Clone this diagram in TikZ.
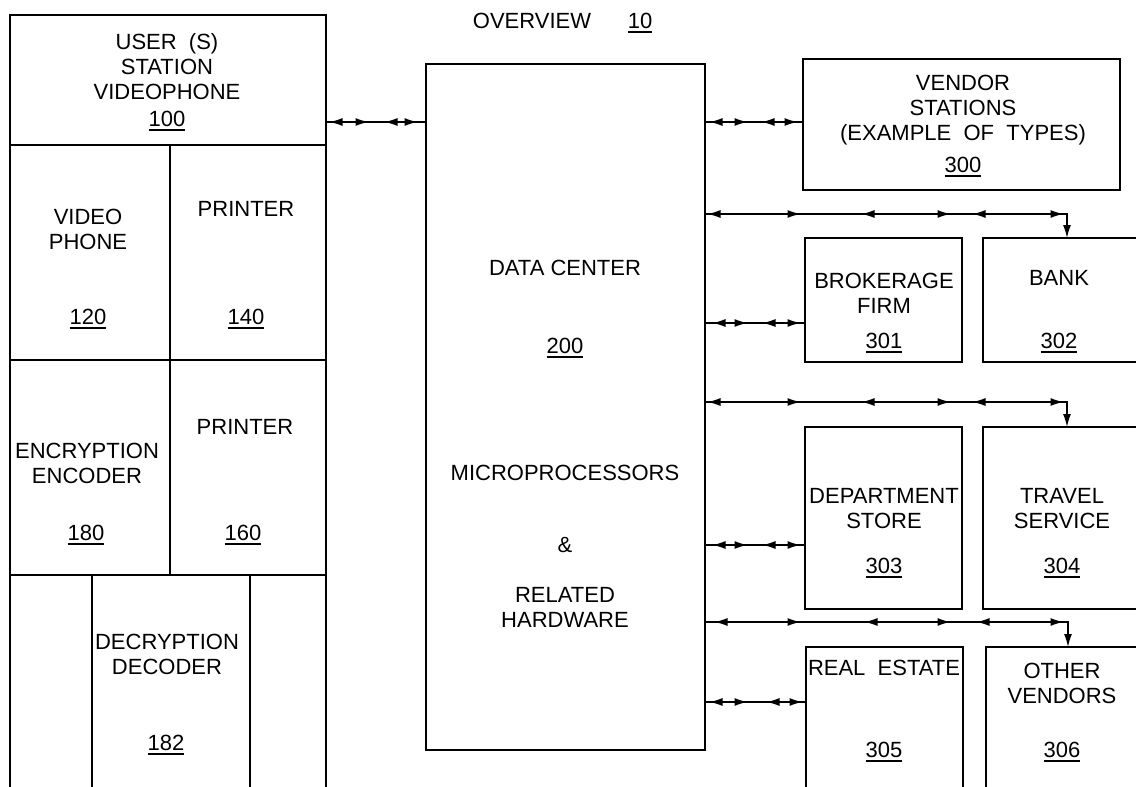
\documentclass[tikz,border=0pt]{standalone}
\usepackage{fontspec}
\setmainfont{Liberation Sans}
\usetikzlibrary{arrows.meta,decorations.markings}
\newcommand\unum[1]{\vtop{\hbox{#1}\kern3pt\hrule height 1.8pt}}
\begin{document}
\begin{tikzpicture}[x=1pt,y=-1pt,
  box/.style={draw,line width=1.4pt,inner sep=0pt,outer sep=0pt,anchor=north west},
  lbl/.style={align=center,inner sep=0pt,font=\fontsize{22}{25}\selectfont},
  num/.style={inner sep=0pt,anchor=base,font=\fontsize{22}{25}\selectfont},
  link/.style={line width=1.4pt},
  endtip/.style={-{Latex[length=13pt,width=8pt]}},
  hf/.style={postaction={decorate,decoration={markings,mark=at position #1pt with {\arrow{Latex[length=13pt,width=8pt]}}}}},
  hb/.style={postaction={decorate,decoration={markings,mark=at position #1pt with {\arrowreversed{Latex[length=13pt,width=8pt]}}}}}]
\useasboundingbox (0,0) rectangle (1136,787);
\clip (0,0) rectangle (1136,787);

% boxes
\node[box,minimum width=316pt,minimum height=790pt] (us) at (10,15) {};
\node[box,minimum width=279pt,minimum height=686pt] (dc) at (426,64) {};
\node[box,minimum width=317pt,minimum height=131pt] (v300) at (803,59) {};
\node[box,minimum width=157pt,minimum height=124pt] (v301) at (805,238) {};
\node[box,minimum width=170pt,minimum height=124pt] (v302) at (983,238) {};
\node[box,minimum width=157pt,minimum height=182pt] (v303) at (805,427) {};
\node[box,minimum width=170pt,minimum height=182pt] (v304) at (983,427) {};
\node[box,minimum width=157pt,minimum height=160pt] (v305) at (806,647) {};
\node[box,minimum width=170pt,minimum height=160pt] (v306) at (986,647) {};

% user station internal divisions
\coordinate (h1) at (0,145);
\coordinate (h2) at (0,360);
\coordinate (h3) at (0,575);
\coordinate (vA) at (170,0);
\coordinate (vB) at (92,0);
\coordinate (vC) at (250,0);
\draw[link] (us.west |- h1) -- (us.east |- h1);
\draw[link] (us.west |- h2) -- (us.east |- h2);
\draw[link] (us.west |- h3) -- (us.east |- h3);
\draw[link] (vA |- h1) -- (vA |- h3);
\draw[link] (vB |- h3) -- (vB |- us.south);
\draw[link] (vC |- h3) -- (vC |- us.south);

% connectors
\coordinate (r1) at (0,122);
\draw[link,hb=3.5,hf=42.5,hb=58.5,hf=91.5] (us.east |- r1) -- (dc.west |- r1);
\draw[link,hb=4.5,hf=42.5,hb=56.5,hf=92.5] (dc.east |- r1) -- (v300.west |- r1);
\coordinate (c2) at (1067,214);
\draw[link,endtip,hb=2.5,hf=95.5,hb=156.5,hf=245.5,hb=267.5,hf=358.5] (dc.east |- c2) -- (c2) -- (c2 |- v302.north);
\coordinate (r3) at (0,323);
\draw[link,hb=7.5,hf=42.5,hb=57.5,hf=95.5] (dc.east |- r3) -- (v301.west |- r3);
\coordinate (c4) at (1067,402);
\draw[link,endtip,hb=2.5,hf=95.5,hb=156.5,hf=245.5,hb=267.5,hf=358.5] (dc.east |- c4) -- (c4) -- (c4 |- v304.north);
\coordinate (r5) at (0,545);
\draw[link,hb=7.5,hf=42.5,hb=57.5,hf=95.5] (dc.east |- r5) -- (v303.west |- r5);
\coordinate (c6) at (1068,622);
\draw[link,endtip,hb=9.5,hf=95.5,hb=159.5,hf=245.5,hb=271.5,hf=358.5] (dc.east |- c6) -- (c6) -- (c6 |- v306.north);
\coordinate (r7) at (0,702);
\draw[link,hb=4.5,hf=42.5,hb=61.5,hf=97.5] (dc.east |- r7) -- (v305.west |- r7);

% texts
\node[lbl] (tov) at (532,21) {OVERVIEW};
\node[num] (n10) at (640,28) {\unum{10}};

\node[lbl] (tus) at (167,67) {USER\ \ (S)\\STATION\\VIDEOPHONE};
\node[num] (n100) at (167,126) {\unum{100}};
\node[lbl] (tvp) at (88,229) {VIDEO\\PHONE};
\node[num] (n120) at (88,324) {\unum{120}};
\node[lbl] (tpr1) at (246,209) {PRINTER};
\node[num] (n140) at (246,324) {\unum{140}};
\node[lbl] (tenc) at (87,463) {ENCRYPTION\\ENCODER};
\node[num] (n180) at (86,540) {\unum{180}};
\node[lbl] (tpr2) at (245,427) {PRINTER};
\node[num] (n160) at (243,540) {\unum{160}};
\node[lbl] (tdec) at (167,654) {DECRYPTION\\DECODER};
\node[num] (n182) at (166,750) {\unum{182}};

\node[lbl] (tdc) at (565,268) {DATA CENTER};
\node[num] (n200) at (565,353) {\unum{200}};
\node[lbl] (tmp) at (565,473) {MICROPROCESSORS};
\node[lbl] (tamp) at (565,545) {\&};
\node[lbl] (trh) at (565,607) {RELATED\\HARDWARE};

\node[lbl] (tvs) at (963,110) {VENDOR\\STATIONS\\(EXAMPLE\ \ OF\ \ TYPES)};
\node[num] (n300) at (963,172) {\unum{300}};
\node[lbl] (tbf) at (884,293) {BROKERAGE\\FIRM};
\node[num] (n301) at (884,348) {\unum{301}};
\node[lbl] (tbk) at (1059,278) {BANK};
\node[num] (n302) at (1059,348) {\unum{302}};
\node[lbl] (tds) at (884,509) {DEPARTMENT\\STORE};
\node[num] (n303) at (884,573) {\unum{303}};
\node[lbl] (tts) at (1062,509) {TRAVEL\\SERVICE};
\node[num] (n304) at (1062,573) {\unum{304}};
\node[lbl] (tre) at (884,668) {REAL\ \ ESTATE};
\node[num] (n305) at (884,757) {\unum{305}};
\node[lbl] (tov2) at (1062,683) {OTHER\\VENDORS};
\node[num] (n306) at (1062,757) {\unum{306}};
\end{tikzpicture}
\end{document}
